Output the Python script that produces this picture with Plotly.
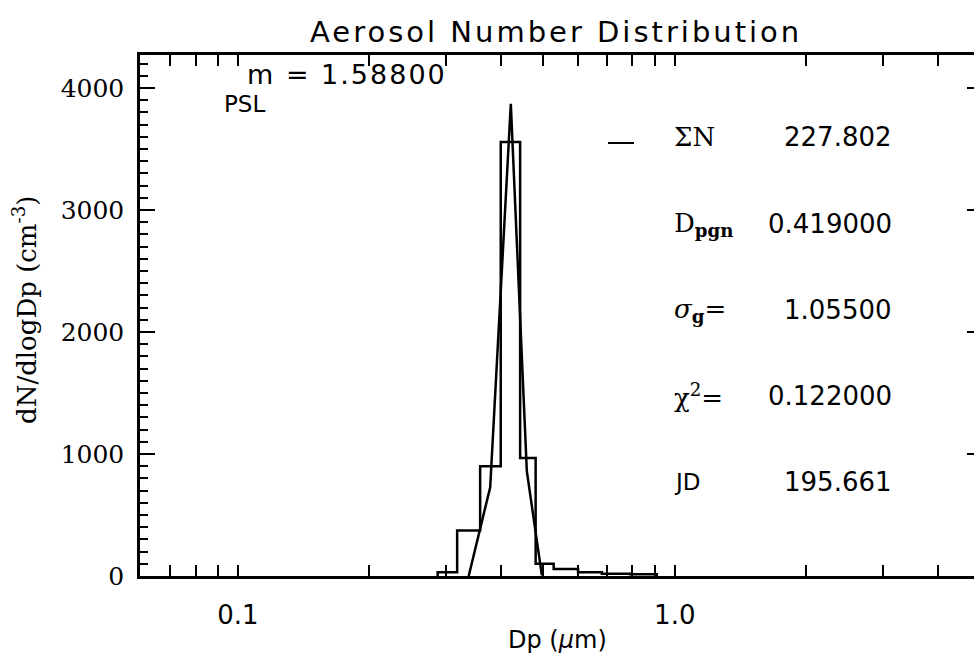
import plotly.graph_objects as go

# ---- data ----
bin_edges = [0.2866, 0.3176, 0.3585, 0.3996, 0.4426, 0.4803, 0.5282, 0.6006, 0.6808, 0.7901, 0.9096]
bin_values = [31, 373, 900, 3556, 967, 101, 57, 31, 18, 14]

fit_dp = [0.3375, 0.378, 0.4214, 0.4585, 0.4963]
fit_values = [0, 727, 3870, 859, 5]

x_major_ticks = [0.1, 1.0]
x_major_text = ["0.1", "1.0"]
x_minor_ticks = [0.06, 0.07, 0.08, 0.09, 0.2, 0.3, 0.4, 0.5, 0.6, 0.7, 0.8, 0.9, 2, 3, 4]
y_major_ticks = [0, 1000, 2000, 3000, 4000]
y_tick_text = ["0", "1000", "2000", "3000", "4000"]
y_minor_ticks = [v for v in range(100, 4300, 100) if v % 1000 != 0]

stat_labels = ["ΣN", "D<sub><b>pgn</b></sub>", "<i>σ</i><sub><b>g</b></sub>=", "χ<sup>2</sup>=", "JD"]
stat_values = ["227.802", "0.419000", "1.05500", "0.122000", "195.661"]

title_text = "Aerosol Number Distribution"
refr_text = "m = 1.58800"
material_text = "PSL"
x_title = "Dp (<i>μ</i>m)"
y_title = "dN/dlogDp (cm<sup>-3</sup>)"

# ---- layout geometry (pixels) ----
W, H = 974, 656
L, R, T, B = 140, 0, 55, 80
PW, PH = W - L - R, H - T - B

def px(x):
    return (x - L) / PW

def py(y):
    return (H - B - y) / PH

# step histogram path
hx = [bin_edges[0]] + bin_edges[:-1] + [bin_edges[-1]]
hy = [0] + bin_values + [0]

fig = go.Figure()
fig.add_trace(go.Scatter(x=hx, y=hy, mode="lines", line=dict(color="black", width=2.5, shape="hv"),
                         showlegend=False, hoverinfo="skip"))
fig.add_trace(go.Scatter(x=fit_dp, y=fit_values, mode="lines", line=dict(color="black", width=2.5),
                         showlegend=False, hoverinfo="skip"))
fig.add_trace(go.Scatter(x=[None], y=[None], yaxis="y2", showlegend=False, hoverinfo="skip"))

sans = "DejaVu Sans"
serif = "DejaVu Serif"
ymax = 4270

fig.update_layout(
    width=W, height=H,
    margin=dict(l=L, r=R, t=T, b=B),
    paper_bgcolor="white", plot_bgcolor="white",
    xaxis=dict(type="log", range=[-1.224, 0.6848], showgrid=False, zeroline=False,
               showline=True, linecolor="black", linewidth=2.5, mirror="allticks",
               ticks="inside", ticklen=11, tickwidth=2, tickcolor="black",
               tickvals=x_major_ticks, ticktext=x_major_text,
               tickfont=dict(family=sans, size=26, color="black"), ticklabelstandoff=14,
               minor=dict(tickvals=x_minor_ticks, ticks="inside", ticklen=6, tickwidth=2,
                          tickcolor="black", showgrid=False)),
    yaxis=dict(range=[0, ymax], showgrid=False, zeroline=False,
               showline=True, linecolor="black", linewidth=2.5,
               ticks="inside", ticklen=15, tickwidth=2, tickcolor="black",
               tickvals=y_major_ticks, ticktext=y_tick_text,
               tickfont=dict(family=serif, size=25, color="black"), ticklabelstandoff=8,
               minor=dict(tickvals=y_minor_ticks, ticks="inside", ticklen=8, tickwidth=2,
                          tickcolor="black", showgrid=False)),
    yaxis2=dict(range=[0, ymax], overlaying="y", side="right", showgrid=False, zeroline=False,
                showline=False, ticks="inside", ticklen=7, tickwidth=2, tickcolor="black",
                tickvals=y_major_ticks, showticklabels=False),
)

ann = []
def add_text(text, x, y, size, family=sans, xanchor="left", angle=0):
    ann.append(dict(text=text, x=px(x), y=py(y), xref="paper", yref="paper",
                    xanchor=xanchor, yanchor="middle", showarrow=False, textangle=angle,
                    font=dict(family=family, size=size, color="black")))

add_text('<span style="letter-spacing:3px">' + title_text + '</span>', 556, 32, 29, xanchor="center")
add_text('<span style="letter-spacing:2px">' + refr_text + '</span>', 245, 74, 27)
add_text(material_text, 222, 104, 23)
add_text(x_title, 557, 640, 24, xanchor="center")
add_text(y_title, 25, 310, 26, family=serif, xanchor="center", angle=-90)

label_y = [137, 224, 310, 396, 482]
for lab, val, yy in zip(stat_labels, stat_values, label_y):
    add_text(lab, 672, yy, 26 if lab != "JD" else 23, family=serif if lab != "JD" else sans)
    add_text(val, 894, yy, 26, xanchor="right")

fig.update_layout(annotations=ann)
fig.add_shape(type="line", xref="paper", yref="paper", x0=px(608), x1=px(634), y0=py(143), y1=py(143),
              line=dict(color="black", width=2))

fig.write_html("out.html")
